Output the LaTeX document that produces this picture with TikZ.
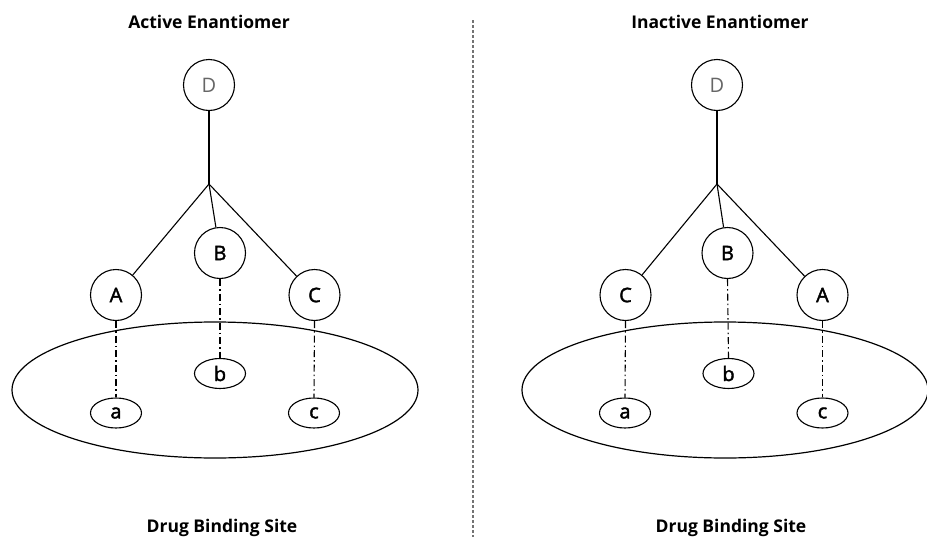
\documentclass[tikz,border=0pt]{standalone}
\usepackage{fontspec}
\setmainfont{Open Sans}
\usetikzlibrary{shapes.geometric}
\newfontfamily\lblfont[FakeBold=2]{Open Sans}
\newfontfamily\dfont{Open Sans}
\tikzset{
  atom/.style={circle,draw,line width=1.1pt,minimum size=51pt,inner sep=0pt,font=\lblfont\fontsize{20}{22}\selectfont},
  datom/.style={atom,text=black!60,font=\dfont\fontsize{20}{22}\selectfont},
  site/.style={ellipse,draw,line width=1.1pt,minimum width=51pt,minimum height=30pt,inner sep=0pt,font=\lblfont\fontsize{20}{22}\selectfont},
  pocket/.style={ellipse,draw,line width=1.2pt,minimum width=406pt,minimum height=136pt,inner sep=0pt},
  bond/.style={line width=1.1pt},
  contact/.style={line width=1.1pt,dash pattern=on 7pt off 3pt on 1.5pt off 3pt},
  title/.style={font=\bfseries\fontsize{17.5}{20}\selectfont,anchor=base},
  divider/.style={line width=1.2pt,black!55,dash pattern=on 3pt off 2pt}
}
\begin{document}
\begin{tikzpicture}[x=1pt,y=-1pt]
\useasboundingbox (0,0) rectangle (927,541);
% left panel
\node[pocket] (P1) at (215,390) {};
\node[datom] (D1) at (209,85) {D};
\coordinate (J1) at (209,184);
\node[atom] (A1) at (116,295) {A};
\node[atom] (B1) at (220,253) {B};
\node[atom] (C1) at (314.5,295) {C};
\node[site] (a1) at (116,413) {a};
\node[site] (b1) at (220,373.5) {b};
\node[site] (c1) at (314,413) {c};
\draw[bond] (D1) -- (J1);
\draw[bond] (J1) -- (A1);
\draw[bond] (J1) -- (B1);
\draw[bond] (J1) -- (C1);
\draw[contact] (A1.south) -- (a1.north);
\draw[contact] (B1.south) -- (b1.north);
\draw[contact] (C1.south) -- (c1.north);
\node[title] (T1) at (209,28) {Active Enantiomer};
\node[title] (S1) at (222,532) {Drug Binding Site};
% divider
\coordinate (V1) at (473,20);
\coordinate (V2) at (473,537);
\draw[divider] (V1) -- (V2);
% right panel
\node[pocket] (P2) at (725,390) {};
\node[datom] (D2) at (717,85) {D};
\coordinate (J2) at (717,184);
\node[atom] (C2) at (625.5,295) {C};
\node[atom] (B2) at (727.5,253) {B};
\node[atom] (A2) at (822.5,295) {A};
\node[site] (a2) at (625,413) {a};
\node[site] (b2) at (728.5,373.5) {b};
\node[site] (c2) at (822.5,413) {c};
\draw[bond] (D2) -- (J2);
\draw[bond] (J2) -- (C2);
\draw[bond] (J2) -- (B2);
\draw[bond] (J2) -- (A2);
\draw[contact] (C2.south) -- (a2.north);
\draw[contact] (B2.south) -- (b2.north);
\draw[contact] (A2.south) -- (c2.north);
\node[title] (T2) at (720,28) {Inactive Enantiomer};
\node[title] (S2) at (731,532) {Drug Binding Site};
\end{tikzpicture}
\end{document}
